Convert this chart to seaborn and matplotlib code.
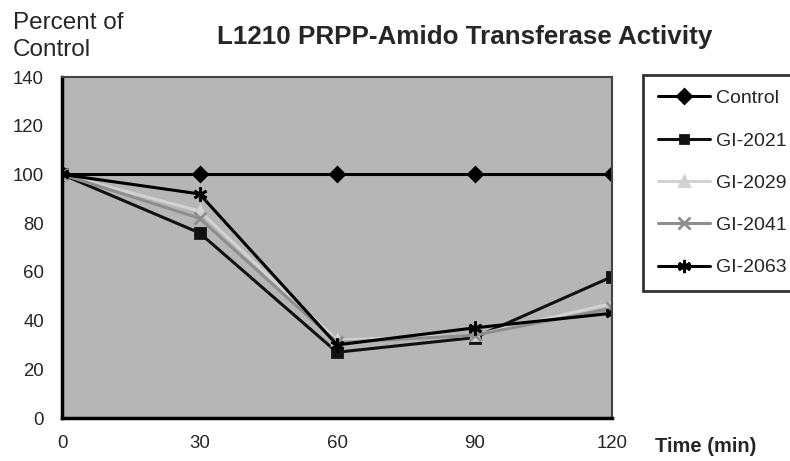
import matplotlib
matplotlib.use("Agg")
import matplotlib.pyplot as plt
import seaborn as sns
import pandas as pd

time_min = [0, 30, 60, 90, 120]
series_names = ["Control", "GI-2021", "GI-2029", "GI-2041", "GI-2063"]
control = [100, 100, 100, 100, 100]
gi_2021 = [100, 76, 27, 33, 58]
gi_2029 = [100, 85, 32, 34, 47]
gi_2041 = [100, 82, 31, 34, 45]
gi_2063 = [100, 92, 30, 37, 43]
y_ticks = [0, 20, 40, 60, 80, 100, 120, 140]

values = [control, gi_2021, gi_2029, gi_2041, gi_2063]
rows = []
for name, vals in zip(series_names, values):
    for t, v in zip(time_min, vals):
        rows.append({"Time": t, "Percent": v, "Series": name})
df = pd.DataFrame(rows)

sns.set_style("white")
plt.rcParams["font.family"] = ["Liberation Sans", "DejaVu Sans"]

W, H = 790, 461
fig = plt.figure(figsize=(W / 100, H / 100), dpi=100)
ax = fig.add_axes([62 / W, 1 - 418 / H, 550 / W, 341 / H])
ax.set_facecolor("#b6b6b6")

palette = {"Control": "#000000", "GI-2021": "#111111", "GI-2029": "#d2d2d2",
           "GI-2041": "#8e8e8e", "GI-2063": "#000000"}
markers = {"Control": "D", "GI-2021": "s", "GI-2029": "^", "GI-2041": "x",
           "GI-2063": (6, 2, 0)}
msizes = {"Control": 7.5, "GI-2021": 6.5, "GI-2029": 7.5, "GI-2041": 8.5, "GI-2063": 10}
for name in series_names:
    sub = df[df["Series"] == name]
    sns.lineplot(data=sub, x="Time", y="Percent", color=palette[name],
                 marker=markers[name], markersize=msizes[name],
                 markeredgewidth=2.0, markeredgecolor=palette[name],
                 lw=2.2, label=name, ax=ax)

ax.set_xlim(0, 120)
ax.set_ylim(0, 140)
ax.set_xticks(time_min)
ax.set_yticks(y_ticks)
ax.tick_params(axis="both", direction="inout", length=10, width=2, labelsize=13.4)
ax.tick_params(axis="y", pad=8)
ax.tick_params(axis="x", pad=7)
for s in ["left", "bottom"]:
    ax.spines[s].set_linewidth(2.5)
    ax.spines[s].set_color("black")
for s in ["top", "right"]:
    ax.spines[s].set_linewidth(1.5)
    ax.spines[s].set_color("#444444")
ax.set_xlabel("")
ax.set_ylabel("")

leg = ax.legend(loc="upper left", bbox_to_anchor=(643 / W, 1 - 75 / H),
                bbox_transform=fig.transFigure, borderaxespad=0,
                frameon=True, fontsize=14, handlelength=2.7,
                labelspacing=1.27, borderpad=0.75, fancybox=False,
                handletextpad=0.3, markerscale=0.95)
leg.get_frame().set_edgecolor("black")
leg.get_frame().set_linewidth(2)

fig.text(13 / W, 1 - 12 / H, "Percent of\nControl", ha="left", va="top",
         fontsize=17.5, linespacing=1.3)
fig.text(465 / W, 1 - 37 / H, "L1210 PRPP-Amido Transferase Activity",
         ha="center", va="center", fontsize=18.7, fontweight="bold")
fig.text(655 / W, 1 - 446 / H, "Time (min)", ha="left", va="center",
         fontsize=14.5, fontweight="bold")

fig.savefig("out.png", dpi=100)
